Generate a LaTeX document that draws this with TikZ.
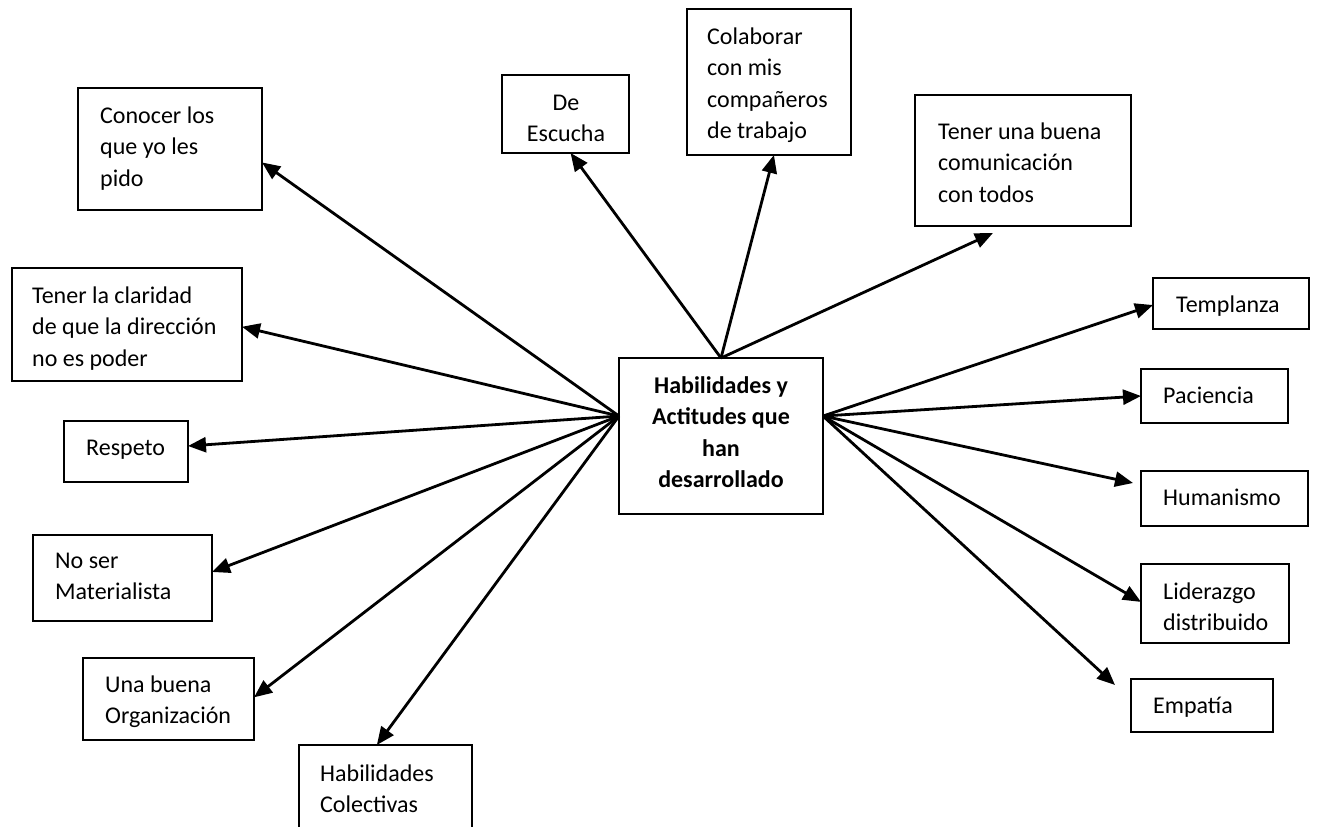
\documentclass[tikz,border=0pt]{standalone}
\usepackage{fontspec}
\setmainfont{Carlito}
\usetikzlibrary{arrows.meta,calc}
\begin{document}
\begin{tikzpicture}[x=1pt,y=-1pt,
  frame/.style={draw, line width=2.8pt, inner sep=0pt, outer sep=0pt, anchor=north west},
  caption/.style={anchor=north west, inner sep=0pt, align=left, font=\fontsize{24}{31.5}\selectfont},
  link/.style={line width=2.8pt, -{Triangle[length=18pt,width=15pt]}}
]
\useasboundingbox (0,0) rectangle (1318,827);

% central box
\node[frame, minimum width=204pt, minimum height=156pt] (hub) at (619,358) {};
\node[caption, anchor=north, align=center, font=\fontsize{24}{31.5}\selectfont\bfseries] (hubT) at (721,371)
  {\strut Habilidades y\\Actitudes que\\han\\desarrollado};

% left column
\node[frame, minimum width=184pt, minimum height=122pt] (conocer) at (78,88) {};
\node[caption] (conocerT) at (100,101) {\strut Conocer los\\que yo les\\pido};

\node[frame, minimum width=230pt, minimum height=113pt] (claridad) at (12,268) {};
\node[caption] (claridadT) at (32,281) {\strut Tener la claridad\\de que la dirección\\no es poder};

\node[frame, minimum width=124pt, minimum height=61pt] (respeto) at (64,421) {};
\node[caption] (respetoT) at (86,433) {\strut Respeto};

\node[frame, minimum width=179pt, minimum height=86pt] (material) at (33,535) {};
\node[caption] (materialT) at (55,546) {\strut No ser\\Materialista};

\node[frame, minimum width=171pt, minimum height=82pt] (organiza) at (83,658) {};
\node[caption] (organizaT) at (105,670) {\strut Una buena\\Organización};

\node[frame, minimum width=173pt, minimum height=110pt] (colect) at (299,745) {};
\node[caption] (colectT) at (320,759) {\strut Habilidades\\Colectivas};

% top row
\node[frame, minimum width=127pt, minimum height=78pt] (escucha) at (502,75) {};
\node[caption, anchor=north, align=center] (escuchaT) at (566,88) {\strut De\\Escucha};

\node[frame, minimum width=164pt, minimum height=146pt] (colabora) at (687,9) {};
\node[caption] (colaboraT) at (707,22) {\strut Colaborar\\con mis\\compañeros\\de trabajo};

\node[frame, minimum width=216pt, minimum height=131pt] (comunica) at (915,95) {};
\node[caption] (comunicaT) at (938,117) {\strut Tener una buena\\comunicación\\con todos};

% right column
\node[frame, minimum width=156pt, minimum height=51pt] (templa) at (1153,278) {};
\node[caption] (templaT) at (1176,290) {\strut Templanza};

\node[frame, minimum width=147pt, minimum height=54pt] (pacien) at (1141,369) {};
\node[caption] (pacienT) at (1163,381) {\strut Paciencia};

\node[frame, minimum width=167pt, minimum height=55pt] (humano) at (1141,471) {};
\node[caption] (humanoT) at (1163,483) {\strut Humanismo};

\node[frame, minimum width=148pt, minimum height=79pt] (lider) at (1141,564) {};
\node[caption] (liderT) at (1163,577) {\strut Liderazgo\\distribuido};

\node[frame, minimum width=142pt, minimum height=53pt] (empatia) at (1131,679) {};
\node[caption] (empatiaT) at (1153,691) {\strut Empatía};

% connection points on the central box
\coordinate (hubL) at ($(hub.north west)!0.372!(hub.south west)$);
\coordinate (hubR) at ($(hub.north east)!0.372!(hub.south east)$);
\coordinate (hubN) at (hub.north);

% free arrow ends
\coordinate (comunicaTip) at (993,233);
\coordinate (humanoTip) at (1133,483);
\coordinate (empatiaTip) at (1115,685);

% arrows
\draw[link] (hubL) -- ($(conocer.north east)!0.61!(conocer.south east)$);
\draw[link] (hubL) -- ($(claridad.north east)!0.52!(claridad.south east)$);
\draw[link] (hubL) -- ($(respeto.north east)!0.41!(respeto.south east)$);
\draw[link] (hubL) -- ($(material.north east)!0.43!(material.south east)$);
\draw[link] (hubL) -- ($(organiza.north east)!0.48!(organiza.south east)$);
\draw[link] (hubL) -- ($(colect.north west)!0.45!(colect.north east)$);

\draw[link] (hubN) -- ($(escucha.south west)!0.54!(escucha.south east)$);
\draw[link] (hubN) -- ($(colabora.south west)!0.53!(colabora.south east)$);
\draw[link] (hubN) -- (comunicaTip);

\draw[link] (hubR) -- ($(templa.north west)!0.53!(templa.south west)$);
\draw[link] (hubR) -- ($(pacien.north west)!0.5!(pacien.south west)$);
\draw[link] (hubR) -- (humanoTip);
\draw[link] (hubR) -- ($(lider.north west)!0.48!(lider.south west)$);
\draw[link] (hubR) -- (empatiaTip);
\end{tikzpicture}
\end{document}
